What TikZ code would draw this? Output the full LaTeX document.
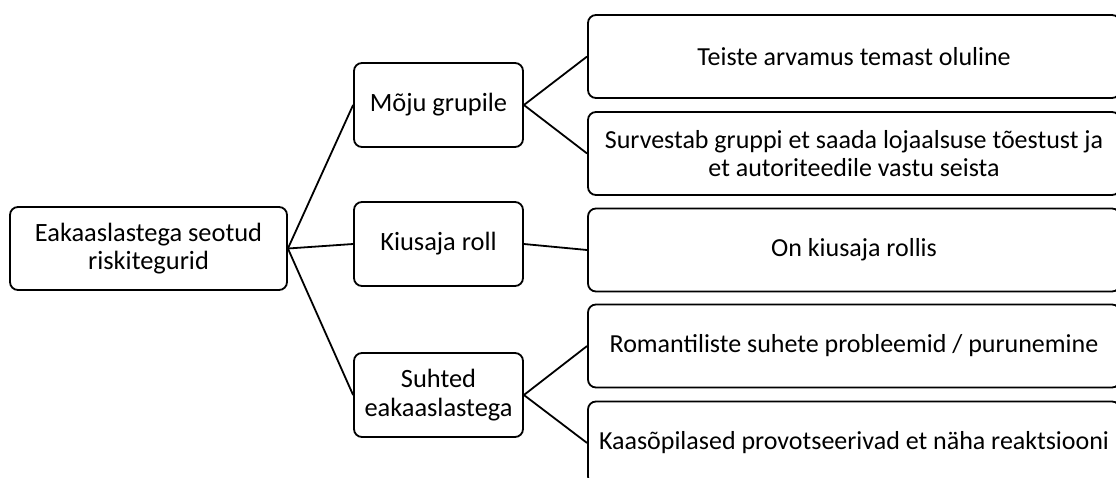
\documentclass[tikz,border=0pt]{standalone}
\usepackage{fontspec}
\setmainfont{Carlito}

\begin{document}
\begin{tikzpicture}[x=1pt,y=-1pt,line width=1.8pt,
    box/.style={draw,rounded corners=8pt,align=center,inner sep=2pt},
    mid/.style={box,minimum width=169pt,minimum height=84pt,font=\fontsize{26.4}{28.5}\selectfont},
    leaf/.style={box,minimum width=532pt,minimum height=83pt,font=\fontsize{26}{28.5}\selectfont}]
      \useasboundingbox (0,0) rectangle (1116,477);
      \clip (0,0) rectangle (1116,477);
      \node[box,minimum width=277pt,minimum height=83pt,font=\fontsize{26.4}{28.5}\selectfont] (root) at (148.5,248.5) {Eakaaslastega seotud\\riskitegurid};
      \node[mid] (moju) at (438.5,105) {Mõju grupile};
      \node[mid] (kius) at (438.5,244) {Kiusaja roll};
      \node[mid] (suht) at (438.5,395) {Suhted\\eakaaslastega};
      \node[leaf] (arv) at (854,56.5) {Teiste arvamus temast oluline};
      \node[leaf] (surv) at (854,153.5) {Survestab gruppi et saada lojaalsuse tõestust ja\\et autoriteedile vastu seista};
      \node[leaf] (roll) at (854,250) {On kiusaja rollis};
      \node[leaf] (rom) at (854,346) {Romantiliste suhete probleemid / purunemine};
      \node[leaf] (prov) at (854,443) {Kaasõpilased provotseerivad et näha reaktsiooni};
      \draw (root.east) -- (moju.west);
      \draw (root.east) -- (kius.west);
      \draw (root.east) -- (suht.west);
      \draw (moju.east) -- (arv.west);
      \draw (moju.east) -- (surv.west);
      \draw (kius.east) -- (roll.west);
      \draw (suht.east) -- (rom.west);
      \draw (suht.east) -- (prov.west);
    \end{tikzpicture}
\end{document}
